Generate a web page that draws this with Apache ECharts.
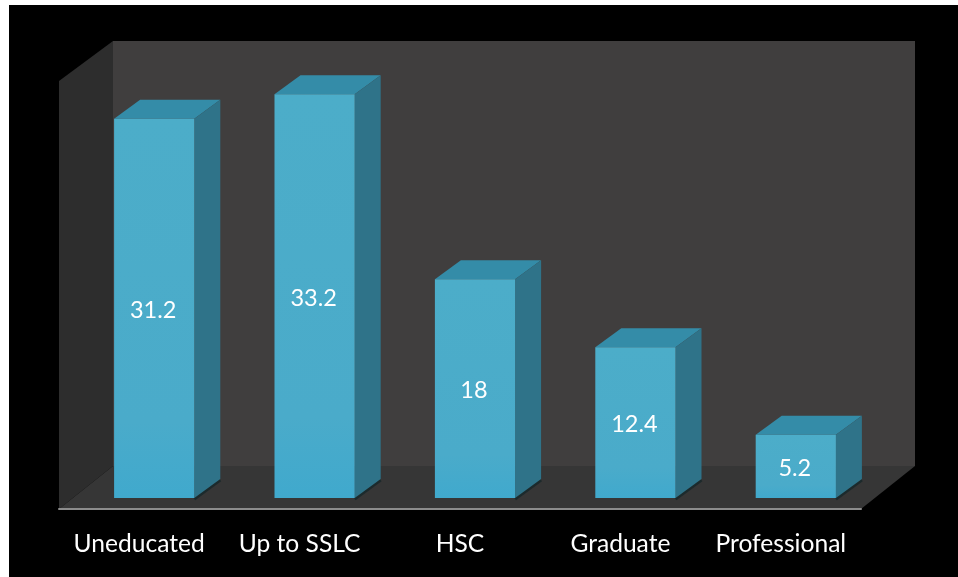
<!DOCTYPE html>
<html><head><meta charset="utf-8">
<style>html,body{margin:0;padding:0;background:#fff}#c{width:958px;height:577px}</style>
<script src="https://cdn.jsdelivr.net/npm/echarts@6/dist/echarts.min.js"></script>
</head><body><div id="c"></div>
<script>
var categories = ['Uneducated','Up to SSLC','HSC','Graduate','Professional'];
var values = [31.2,33.2,18,12.4,5.2];
var labels = ['31.2','33.2','18','12.4','5.2'];
var yMax = 35.2;

var WALL_DX = 54, WALL_DY = 43, BAR_DX = 26, BAR_DY = 19, BAR_SHIFT = 15, BAR_LIFT = 11;

function poly(pts, fill) {
  return {type:'polygon', shape:{points:pts}, style:{fill:fill}, silent:true};
}
function renderFrame(params, api) {
  var s = params.coordSys, l = s.x, r = s.x + s.width, t = s.y, b = s.y + s.height;
  return {type:'group', children:[
    poly([[l+WALL_DX,t-WALL_DY+3],[r+WALL_DX,t-WALL_DY+3],[r+WALL_DX,b-WALL_DY],[l+WALL_DX,b-WALL_DY]], '#403e3e'),
    poly([[l,t],[l+WALL_DX,t-WALL_DY+3],[l+WALL_DX,b-WALL_DY],[l,b]], '#2d2d2d'),
    poly([[l,b],[l+WALL_DX,b-WALL_DY],[r+WALL_DX,b-WALL_DY],[r,b]], '#363636')
  ]};
}
function renderBar(params, api) {
  var top = api.coord([api.value(0), api.value(1)]);
  var base = api.coord([api.value(0), 0]);
  var w = api.size([1,0])[0] * 0.5;
  var x0 = top[0] - w/2 + BAR_SHIFT, x1 = x0 + w;
  var yT = top[1] - BAR_LIFT, yB = base[1] - BAR_LIFT;
  return {type:'group', children:[
    {type:'line', silent:true, shape:{x1:x1,y1:yB+1,x2:x1+BAR_DX,y2:yB-BAR_DY+1}, style:{stroke:'#1c2a2c',lineWidth:3}},
    poly([[x0,yT],[x0+BAR_DX,yT-BAR_DY],[x1+BAR_DX,yT-BAR_DY],[x1,yT]], '#348ca8'),
    poly([[x1,yT],[x1+BAR_DX,yT-BAR_DY],[x1+BAR_DX,yB-BAR_DY],[x1,yB]], '#2f7389'),
    {type:'rect', shape:{x:x0,y:yT,width:w,height:yB-yT}, silent:true,
     style:{fill:new echarts.graphic.LinearGradient(0,0,0,1,[{offset:0,color:'#4cadc9'},{offset:0.8,color:'#4aabca'},{offset:1,color:'#40a9cd'}])}},
    {type:'text', silent:true, style:{x:(x0+x1)/2-1, y:(yT+yB)/2+2, text:labels[params.dataIndex],
      fill:'#fff', font:'23.5px Lato', align:'center', verticalAlign:'middle'}}
  ]};
}
var chart = echarts.init(document.getElementById('c'), null, {renderer:'canvas'});
chart.setOption({
  animation:false,
  backgroundColor:'#fff',
  graphic:[{type:'rect', z:-10, silent:true, shape:{x:9,y:5,width:949,height:572}, style:{fill:'#000'}}],
  grid:{left:59, right:97, top:81, bottom:68, containLabel:false},
  xAxis:{type:'category', data:categories, z:5,
    axisLine:{show:true, lineStyle:{color:'#8c8c8c', width:2}},
    axisTick:{show:false}, splitLine:{show:false},
    axisLabel:{color:'#fff', fontFamily:'Lato', fontSize:24.6, margin:23, interval:0}},
  yAxis:{type:'value', min:0, max:yMax, show:false, splitLine:{show:false}},
  series:[
    {type:'custom', z:1, data:[[0,0]], renderItem:renderFrame, silent:true, clip:false},
    {type:'custom', z:2, data:categories.map(function(c,i){return [i,values[i]];}),
     encode:{x:0,y:1}, renderItem:renderBar, clip:false, silent:true}
  ]
});
</script></body></html>
